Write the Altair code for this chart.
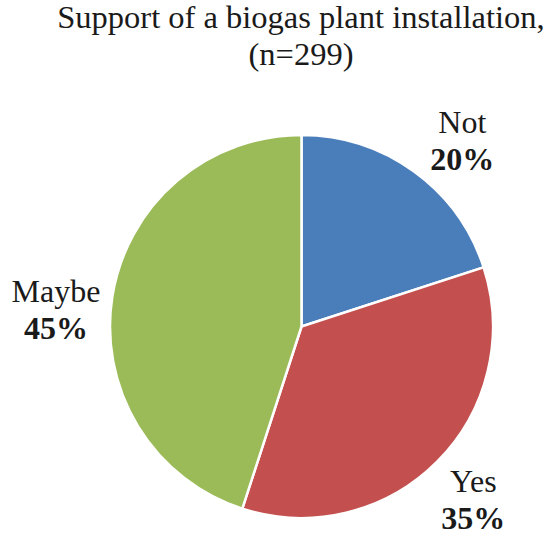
import math
import altair as alt
import pandas as pd

# data
categories = ["Not", "Yes", "Maybe"]
shares = [20, 35, 45]
pct_labels = ["20%", "35%", "45%"]
colors = ["#4A7EBB", "#C3504E", "#9BBB59"]

# label layout (polar, degrees clockwise from top / pixels from centre)
label_angle = [42.5, 137.0, 271.4]
label_radius = [238.0, 252.0, 245.6]

df = pd.DataFrame({
    "category": categories,
    "share": shares,
    "pct": pct_labels,
    "order": list(range(len(categories))),
    "lab_angle": label_angle,
    "lab_r": label_radius,
})

CX, CY = 301.5, 256.5
FONT = "Times New Roman, Liberation Serif, serif"

pie = alt.Chart(df).mark_arc(radius=191.5, stroke="white", strokeWidth=2.5).encode(
    theta=alt.Theta("share:Q", stack=True),
    order=alt.Order("order:Q"),
    color=alt.Color("category:N", scale=alt.Scale(domain=categories, range=colors), legend=None),
    x=alt.value(CX),
    y=alt.value(CY),
)

theta_lab = alt.Theta("lab_angle:Q", scale=alt.Scale(domain=[0, 360], range=[0, 2 * math.pi]))

names = alt.Chart(df).mark_text(font=FONT, fontSize=32, color="#1a1a1a",
                                baseline="alphabetic", align="center", dy=-18.5).encode(
    theta=theta_lab,
    radius=alt.Radius("lab_r:Q", scale=None),
    text="category:N",
    x=alt.value(CX),
    y=alt.value(CY),
)

pcts = alt.Chart(df).mark_text(font=FONT, fontSize=32, fontWeight="bold", color="#1a1a1a",
                               baseline="alphabetic", align="center", dy=18.5).encode(
    theta=theta_lab,
    radius=alt.Radius("lab_r:Q", scale=None),
    text="pct:N",
    x=alt.value(CX),
    y=alt.value(CY),
)

chart = alt.layer(pie, names, pcts).resolve_scale(theta="independent").properties(
    width=555,
    height=470,
    padding={"left": 0, "top": 70, "right": 0, "bottom": 0},
    autosize=alt.AutoSizeParams(type="none"),
    title=alt.TitleParams(
        text=["Support of a biogas plant installation,", "(n=299)"],
        font=FONT, fontSize=32.5, fontWeight="normal", color="#1a1a1a",
        anchor="middle", offset=0, dx=23.5, dy=27, lineHeight=37,
        baseline="alphabetic",
    ),
).configure_view(stroke=None)

chart.save("out.html", embed_options={"renderer": "svg", "actions": False})
